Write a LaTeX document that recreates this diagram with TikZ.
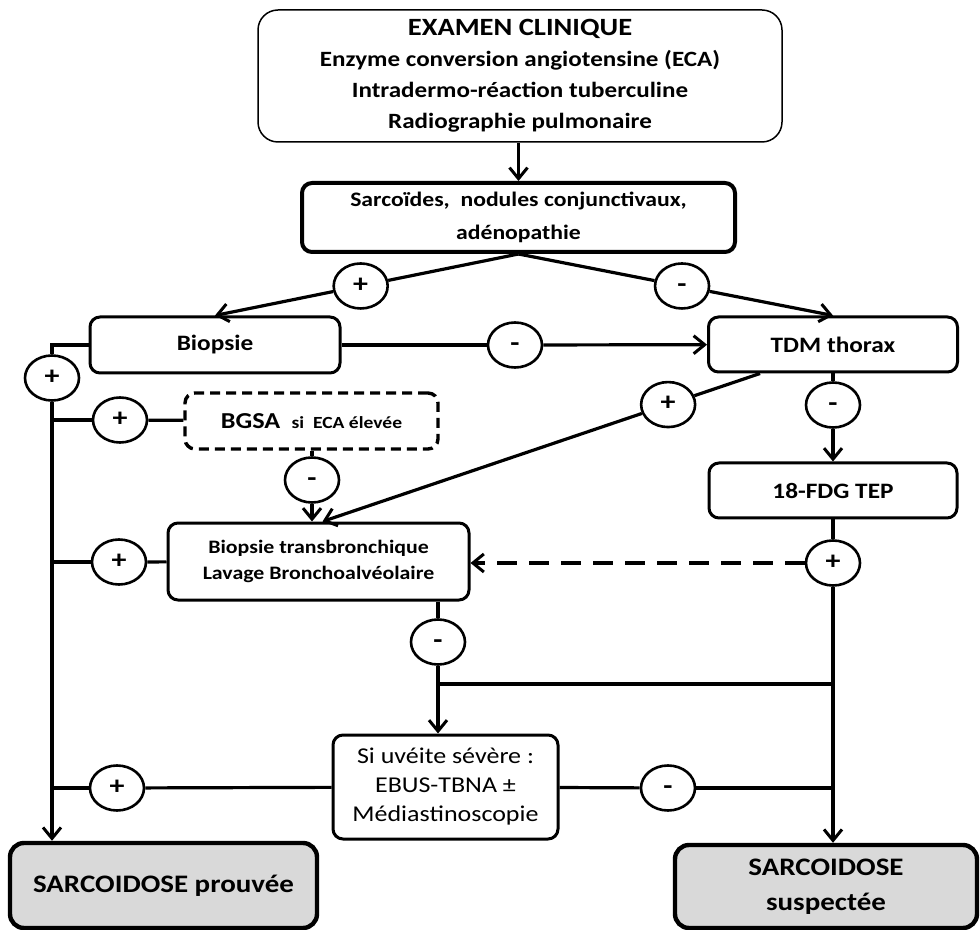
\documentclass[tikz,border=0pt]{standalone}
\usepackage{fontspec}
\setmainfont{Carlito}[FakeStretch=1.15]
\usetikzlibrary{arrows.meta,positioning,calc,shapes.geometric}

\begin{document}
\begin{tikzpicture}[
    x=0.5pt,y=-0.5pt,
    box/.style={draw, line width=1.5pt, rounded corners=5pt, align=center, inner sep=2pt, font=\bfseries\fontsize{11}{14}\selectfont},
    outcome/.style={box, fill=black!15, line width=2.2pt, rounded corners=7pt, font=\bfseries\fontsize{12.6}{17.5}\selectfont},
    sign/.style={draw, ellipse, line width=1.3pt, minimum width=27pt, minimum height=22.5pt, inner sep=0pt, text height=0.62em, text depth=0pt, font=\bfseries\fontsize{13}{13}\selectfont},
    link/.style={line width=1.6pt},
    arr/.style={link, -{Straight Barb[length=5.5pt,width=9pt,line width=1.5pt]}}
  ]
    \useasboundingbox (0,0) rectangle (980,930);
    % boxes
    \node[box, line width=0.75pt, rounded corners=10pt, minimum width=262pt, minimum height=66pt, font=\bfseries\fontsize{10.9}{15.5}\selectfont] (exam) at (520,76)
      {{\fontsize{12.4}{15.5}\selectfont EXAMEN CLINIQUE}\\ Enzyme conversion angiotensine (ECA)\\ Intradermo-réaction tuberculine\\ Radiographie pulmonaire};
    \node[box, line width=2pt, minimum width=216.5pt, minimum height=34.5pt, font=\bfseries\fontsize{10.3}{16.5}\selectfont] (sarc) at (518.5,217.5)
      {Sarcoïdes,~ nodules conjunctivaux,\\ adénopathie};
    \node[box, minimum width=125pt, minimum height=28pt] (biop) at (215,345) {Biopsie};
    \node[box, minimum width=124.5pt, minimum height=27.5pt] (tdm) at (833,344.5) {TDM thorax};
    \node[box, dashed, dash pattern=on 5pt off 3pt, line width=1.7pt, minimum width=126.5pt, minimum height=28pt] (bgsa) at (311.5,421)
      {{\fontsize{11.4}{14}\selectfont BGSA}~ {\fontsize{8.5}{11}\selectfont si~ ECA élevée}};
    \node[box, minimum width=124pt, minimum height=27.5pt] (tep) at (833,490.5) {18-FDG TEP};
    \node[box, minimum width=150.5pt, minimum height=38.5pt, font=\bfseries\fontsize{9.5}{13}\selectfont] (btb) at (318.5,561.5)
      {Biopsie transbronchique\\ Lavage Bronchoalvéolaire};
    \node[box, minimum width=112.5pt, minimum height=52pt, font=\fontsize{11.3}{14.5}\selectfont] (uveite) at (445.5,787)
      {Si uvéite sévère :\\ EBUS-TBNA ±\\ Médiastinoscopie};
    \node[outcome, minimum width=153.5pt, minimum height=42.5pt] (prouvee) at (163.5,885.5) {SARCOIDOSE prouvée};
    \node[outcome, minimum width=151pt, minimum height=41.5pt] (suspect) at (826,886.5) {SARCOIDOSE\\ suspectée};
    % signs
    \node[sign] (sBiop) at ($(sarc.south)!0.52!(biop.north)$) {+};
    \node[sign] (sTdm) at ($(sarc.south)!0.52!(tdm.north)$) {-};
    \node[sign] (sLeft) at (52,378) {+};
    \node[sign] (sBT) at (515,345) {-};
    \node[sign] (sBgsa) at (120,420) {+};
    \node[sign] (sTdmD) at (833,405) {-};
    \coordinate (tdmFoot) at ($(tdm.south)+(-73,0)$);
    \coordinate (btbTop) at ($(btb.north)+(4,0)$);
    \node[sign] (sTdmBtb) at ($(tdmFoot)!0.21!(btbTop)$) {+};
    \node[sign] (sBgsaBtb) at (312,480) {-};
    \node[sign] (sBtb) at (119,562) {+};
    \node[sign] (sTepP) at (833,563) {+};
    \node[sign] (sBtbM) at (438,642) {-};
    \node[sign] (sUvP) at (117,788) {+};
    \node[sign] (sUvM) at (668,788) {-};
    % connectors
    \draw[arr] (sarc.north |- exam.south) -- (sarc.north);
    \draw[link] (sarc.south) -- (sBiop);
    \draw[arr] (sBiop) -- (biop.north);
    \draw[link] (sarc.south) -- (sTdm);
    \draw[arr] (sTdm) -- (tdm.north);
    \draw[link] (biop) -- (sBT);
    \draw[arr] (sBT) -- (tdm);
    \draw[link] (biop.west) -| (sLeft);
    \draw[arr] (sLeft) -- (sLeft |- prouvee.north);
    \draw[link] (sBgsa) -- (sBgsa -| sLeft);
    \draw[link] (sBgsa) -- (bgsa);
    \draw[link] (sBtb) -- (sBtb -| sLeft);
    \draw[link] (sBtb) -- (btb);
    \draw[link] (sUvP) -- (sUvP -| sLeft);
    \draw[link] (sUvP) -- (uveite);
    \draw[link] (tdm.south) -- (sTdmD);
    \draw[arr] (sTdmD) -- (tep.north);
    \draw[link] (tdmFoot) -- (sTdmBtb);
    \draw[arr] (sTdmBtb) -- (btbTop);
    \draw[link] (bgsa.south -| sBgsaBtb) -- (sBgsaBtb);
    \draw[arr] (sBgsaBtb) -- (sBgsaBtb |- btb.north);
    \draw[link] (tep.south) -- (sTepP);
    \draw[arr] (sTepP) -- (sTepP |- suspect.north);
    \draw[arr, line width=2pt, dash pattern=on 10pt off 6pt] (sTepP) -- (sTepP -| btb.east);
    \draw[link] (btb.south -| sBtbM) -- (sBtbM);
    \coordinate (join) at (sBtbM |- 0,684);
    \draw[arr] (sBtbM) -- (join) -- (join |- uveite.north);
    \draw[link] (join) -- (join -| sTepP);
    \draw[link] (uveite) -- (sUvM);
    \draw[link] (sUvM) -- (sUvM -| sTepP);
  \end{tikzpicture}
\end{document}
